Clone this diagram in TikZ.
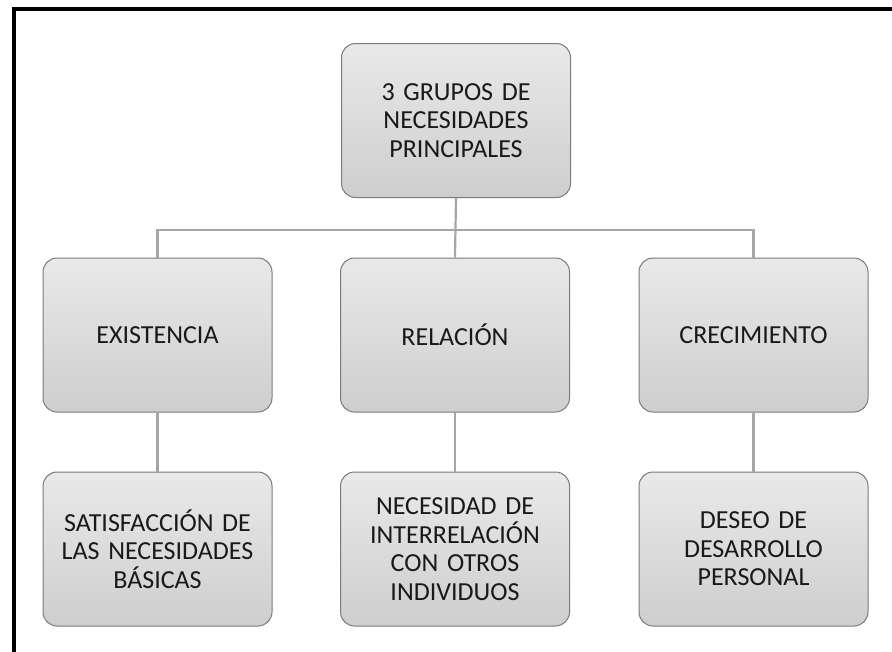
\documentclass[tikz,border=0pt]{standalone}
\usepackage{fontspec}
\setmainfont{Carlito}
\usetikzlibrary{positioning}

\definecolor{boxtop}{HTML}{E9E9E9}
\definecolor{boxbot}{HTML}{CECECE}
\definecolor{boxline}{HTML}{7A7A7A}
\definecolor{linkgray}{HTML}{A6A6A6}

\tikzset{
  needbox/.style={draw=boxline, line width=1pt, rounded corners=14pt,
    top color=boxtop, bottom color=boxbot,
    minimum width=229pt, minimum height=154pt, text width=222pt,
    align=center, font=\fontsize{26}{28.5}\selectfont, inner sep=0pt,
    text=black!90},
  link/.style={draw=linkgray, line width=2.2pt}
}

\begin{document}
\begin{tikzpicture}[x=1pt,y=-1pt]
		\useasboundingbox (0,0) rectangle (892,651);
		\fill[white] (0,0) rectangle (892,651);
		% frame
		\draw[line width=4pt] (14,660) -- (14,9) -- (900,9);
		% boxes
		\node[needbox] (top) at (456,120.5) {3 GRUPOS DE\\NECESIDADES\\PRINCIPALES};
		\node[needbox] (exist) at (157.5,335) {EXISTENCIA};
		\node[needbox] (rel) at (455,335) {RELACIÓN};
		\node[needbox] (crec) at (753.5,335) {CRECIMIENTO};
		\node[needbox] (basic) at (157.5,549) {SATISFACCIÓN DE\\LAS NECESIDADES\\BÁSICAS};
		\node[needbox] (inter) at (455,549) {NECESIDAD DE\\INTERRELACIÓN\\CON OTROS\\INDIVIDUOS};
		\node[needbox] (desar) at (753.5,549) {DESEO DE\\DESARROLLO\\PERSONAL};
		% connectors
		\coordinate (bar) at (455,230);
		\draw[link] (top.south) -- (rel.north);
		\draw[link] (exist.north) |- (bar) -| (crec.north);
		\draw[link] (exist.south) -- (basic.north);
		\draw[link] (rel.south) -- (inter.north);
		\draw[link] (crec.south) -- (desar.north);
	\end{tikzpicture}
\end{document}
